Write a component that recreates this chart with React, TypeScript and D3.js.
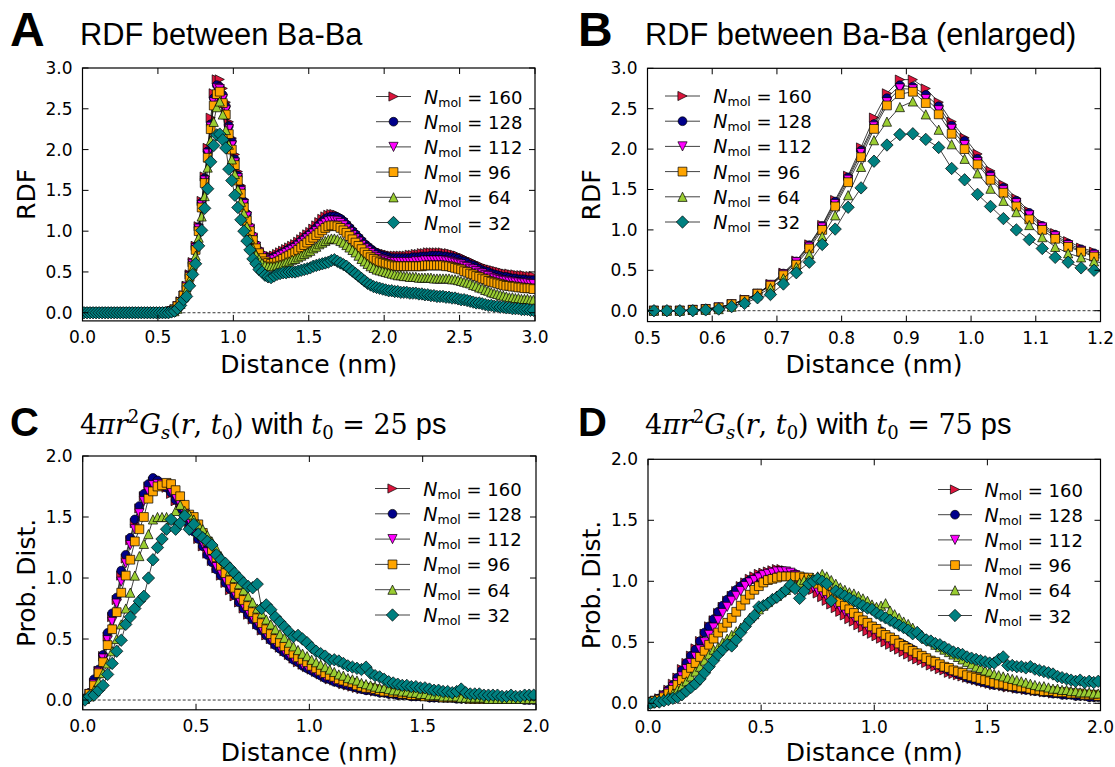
import React from "react";
import * as d3 from "d3";

// ---------- data ----------
const BIN_START = 0.01; // nm, first bin centre
const BIN_STEP = 0.02; // nm, bin width

const SERIES_N = ["160", "128", "112", "96", "64", "32"];
const SERIES_COLORS = ["#dc143c", "#00008b", "#ff00ff", "#ffa500", "#9acd32", "#008080"];
const SERIES_SHAPES = ["triRight", "circle", "triDown", "square", "triUp", "diamond"];

// RDF Ba-Ba, bins 0.01 .. 2.99 nm
const RDF_160 = [
  0, 0, 0, 0, 0, 0, 0, 0, 0, 0,
  0, 0, 0, 0, 0, 0, 0, 0, 0, 0,
  0, 0, 0, 0, 0, 0, 0, 0, 0.01, 0.02,
  0.04, 0.08, 0.14, 0.21, 0.33, 0.47, 0.62, 0.82, 1.06, 1.37,
  1.67, 2.02, 2.39, 2.69, 2.86, 2.86, 2.75, 2.58, 2.34, 2.14,
  1.94, 1.73, 1.56, 1.39, 1.23, 1.07, 0.96, 0.86, 0.78, 0.73,
  0.70, 0.69, 0.69, 0.70, 0.72, 0.74, 0.76, 0.78, 0.80, 0.82,
  0.84, 0.87, 0.90, 0.93, 0.96, 0.99, 1.03, 1.07, 1.11, 1.15,
  1.18, 1.20, 1.21, 1.21, 1.20, 1.18, 1.15, 1.11, 1.07, 1.03,
  0.99, 0.95, 0.91, 0.87, 0.84, 0.81, 0.78, 0.76, 0.74, 0.73,
  0.72, 0.71, 0.70, 0.70, 0.70, 0.70, 0.70, 0.70, 0.71, 0.71,
  0.72, 0.72, 0.73, 0.73, 0.74, 0.74, 0.74, 0.74, 0.74, 0.74,
  0.73, 0.73, 0.72, 0.71, 0.70, 0.68, 0.67, 0.65, 0.63, 0.62,
  0.60, 0.58, 0.57, 0.55, 0.54, 0.53, 0.52, 0.51, 0.50, 0.49,
  0.48, 0.48, 0.47, 0.47, 0.46, 0.46, 0.46, 0.45, 0.45, 0.45,
];
const RDF_128 = [
  0, 0, 0, 0, 0, 0, 0, 0, 0, 0,
  0, 0, 0, 0, 0, 0, 0, 0, 0, 0,
  0, 0, 0, 0, 0, 0, 0, 0, 0.01, 0.02,
  0.04, 0.08, 0.13, 0.21, 0.32, 0.46, 0.61, 0.81, 1.05, 1.35,
  1.65, 1.98, 2.31, 2.63, 2.79, 2.77, 2.67, 2.53, 2.29, 2.10,
  1.88, 1.68, 1.52, 1.36, 1.21, 1.05, 0.94, 0.83, 0.76, 0.71,
  0.68, 0.67, 0.67, 0.68, 0.70, 0.72, 0.74, 0.76, 0.78, 0.80,
  0.82, 0.85, 0.88, 0.91, 0.94, 0.97, 1.00, 1.04, 1.08, 1.12,
  1.15, 1.17, 1.18, 1.18, 1.17, 1.15, 1.12, 1.08, 1.04, 1.00,
  0.96, 0.92, 0.88, 0.84, 0.81, 0.78, 0.75, 0.73, 0.71, 0.70,
  0.69, 0.68, 0.67, 0.67, 0.67, 0.67, 0.67, 0.67, 0.67, 0.68,
  0.68, 0.68, 0.69, 0.69, 0.69, 0.70, 0.70, 0.70, 0.70, 0.69,
  0.69, 0.68, 0.68, 0.67, 0.66, 0.64, 0.63, 0.61, 0.59, 0.58,
  0.56, 0.54, 0.52, 0.51, 0.50, 0.48, 0.47, 0.46, 0.45, 0.44,
  0.44, 0.43, 0.42, 0.42, 0.41, 0.41, 0.41, 0.40, 0.40, 0.40,
];
const RDF_112 = [
  0, 0, 0, 0, 0, 0, 0, 0, 0, 0,
  0, 0, 0, 0, 0, 0, 0, 0, 0, 0,
  0, 0, 0, 0, 0, 0, 0, 0, 0.01, 0.02,
  0.04, 0.08, 0.13, 0.21, 0.32, 0.45, 0.60, 0.79, 1.03, 1.32,
  1.62, 1.95, 2.28, 2.58, 2.75, 2.74, 2.62, 2.48, 2.25, 2.05,
  1.84, 1.65, 1.49, 1.33, 1.18, 1.03, 0.92, 0.81, 0.74, 0.69,
  0.66, 0.64, 0.64, 0.65, 0.67, 0.69, 0.71, 0.73, 0.75, 0.77,
  0.79, 0.82, 0.85, 0.88, 0.91, 0.94, 0.97, 1.00, 1.04, 1.07,
  1.10, 1.12, 1.13, 1.13, 1.12, 1.10, 1.07, 1.03, 0.99, 0.95,
  0.91, 0.87, 0.83, 0.79, 0.76, 0.73, 0.70, 0.68, 0.66, 0.65,
  0.64, 0.63, 0.62, 0.62, 0.62, 0.62, 0.62, 0.62, 0.62, 0.62,
  0.63, 0.63, 0.63, 0.64, 0.64, 0.64, 0.64, 0.64, 0.64, 0.64,
  0.63, 0.63, 0.62, 0.61, 0.60, 0.59, 0.57, 0.56, 0.54, 0.53,
  0.51, 0.49, 0.48, 0.46, 0.45, 0.43, 0.42, 0.41, 0.40, 0.39,
  0.39, 0.38, 0.38, 0.37, 0.37, 0.36, 0.36, 0.36, 0.35, 0.35,
];
const RDF_96 = [
  0, 0, 0, 0, 0, 0, 0, 0, 0, 0,
  0, 0, 0, 0, 0, 0, 0, 0, 0, 0,
  0, 0, 0, 0, 0, 0, 0, 0, 0.01, 0.02,
  0.04, 0.08, 0.13, 0.21, 0.31, 0.44, 0.57, 0.77, 1.00, 1.29,
  1.59, 1.90, 2.25, 2.54, 2.68, 2.71, 2.57, 2.43, 2.19, 2.00,
  1.81, 1.62, 1.46, 1.29, 1.13, 1.00, 0.89, 0.79, 0.73, 0.67,
  0.63, 0.61, 0.60, 0.61, 0.62, 0.64, 0.66, 0.68, 0.70, 0.72,
  0.74, 0.77, 0.80, 0.83, 0.86, 0.89, 0.92, 0.95, 0.98, 1.01,
  1.04, 1.06, 1.07, 1.07, 1.06, 1.04, 1.01, 0.98, 0.94, 0.90,
  0.86, 0.82, 0.78, 0.74, 0.71, 0.68, 0.66, 0.64, 0.62, 0.61,
  0.60, 0.59, 0.58, 0.57, 0.57, 0.57, 0.57, 0.57, 0.57, 0.57,
  0.57, 0.57, 0.57, 0.58, 0.58, 0.58, 0.58, 0.58, 0.58, 0.58,
  0.57, 0.57, 0.56, 0.55, 0.54, 0.53, 0.51, 0.50, 0.48, 0.47,
  0.45, 0.44, 0.42, 0.41, 0.39, 0.38, 0.37, 0.36, 0.35, 0.34,
  0.33, 0.33, 0.32, 0.32, 0.31, 0.31, 0.30, 0.30, 0.30, 0.29,
];
const RDF_64 = [
  0, 0, 0, 0, 0, 0, 0, 0, 0, 0,
  0, 0, 0, 0, 0, 0, 0, 0, 0, 0,
  0, 0, 0, 0, 0, 0, 0, 0, 0.01, 0.01,
  0.02, 0.05, 0.11, 0.19, 0.28, 0.40, 0.54, 0.70, 0.92, 1.18,
  1.43, 1.78, 2.11, 2.34, 2.52, 2.59, 2.43, 2.24, 2.06, 1.88,
  1.70, 1.51, 1.36, 1.22, 1.06, 0.91, 0.79, 0.71, 0.66, 0.61,
  0.58, 0.57, 0.57, 0.57, 0.58, 0.59, 0.60, 0.62, 0.63, 0.65,
  0.66, 0.68, 0.70, 0.72, 0.74, 0.76, 0.79, 0.81, 0.84, 0.86,
  0.88, 0.90, 0.91, 0.91, 0.90, 0.88, 0.86, 0.83, 0.80, 0.77,
  0.74, 0.70, 0.66, 0.63, 0.60, 0.57, 0.55, 0.53, 0.52, 0.51,
  0.50, 0.49, 0.48, 0.47, 0.46, 0.46, 0.45, 0.45, 0.44, 0.44,
  0.44, 0.43, 0.43, 0.43, 0.43, 0.43, 0.42, 0.42, 0.42, 0.42,
  0.42, 0.42, 0.41, 0.41, 0.40, 0.39, 0.38, 0.37, 0.36, 0.34,
  0.33, 0.31, 0.30, 0.28, 0.27, 0.25, 0.24, 0.23, 0.22, 0.21,
  0.20, 0.19, 0.19, 0.18, 0.18, 0.17, 0.17, 0.17, 0.16, 0.16,
];
const RDF_32 = [
  0, 0, 0, 0, 0, 0, 0, 0, 0, 0,
  0, 0, 0, 0, 0, 0, 0, 0, 0, 0,
  0, 0, 0, 0, 0, 0, 0, 0, 0, 0.01,
  0.02, 0.05, 0.09, 0.16, 0.20, 0.33, 0.47, 0.60, 0.82, 1.01,
  1.28, 1.52, 1.85, 2.05, 2.18, 2.19, 2.12, 2.02, 1.76, 1.62,
  1.44, 1.29, 1.14, 1.00, 0.88, 0.77, 0.66, 0.60, 0.53, 0.50,
  0.46, 0.44, 0.43, 0.45, 0.47, 0.48, 0.49, 0.49, 0.50, 0.50,
  0.50, 0.51, 0.52, 0.53, 0.54, 0.55, 0.57, 0.58, 0.59, 0.60,
  0.61, 0.62, 0.64, 0.65, 0.63, 0.61, 0.59, 0.57, 0.54, 0.51,
  0.48, 0.45, 0.42, 0.39, 0.36, 0.34, 0.32, 0.31, 0.30, 0.29,
  0.28, 0.27, 0.27, 0.26, 0.26, 0.25, 0.25, 0.25, 0.24, 0.24,
  0.24, 0.23, 0.23, 0.22, 0.22, 0.21, 0.21, 0.20, 0.20, 0.20,
  0.19, 0.19, 0.18, 0.18, 0.17, 0.16, 0.16, 0.15, 0.14, 0.13,
  0.12, 0.12, 0.11, 0.10, 0.09, 0.09, 0.08, 0.08, 0.07, 0.07,
  0.06, 0.06, 0.05, 0.05, 0.05, 0.04, 0.04, 0.04, 0.03, 0.03,
];

// 4 pi r^2 Gs(r, t0), t0 = 25 ps, bins 0.01 .. 1.99 nm
const GS25_160 = [
  0.01, 0.05, 0.14, 0.24, 0.36, 0.52, 0.68, 0.82, 1.02, 1.16,
  1.31, 1.45, 1.57, 1.67, 1.75, 1.79, 1.81, 1.78, 1.74, 1.69,
  1.63, 1.57, 1.51, 1.45, 1.39, 1.32, 1.26, 1.20, 1.14, 1.08,
  1.02, 0.96, 0.90, 0.85, 0.80, 0.75, 0.70, 0.66, 0.62, 0.57,
  0.53, 0.50, 0.46, 0.43, 0.40, 0.37, 0.34, 0.31, 0.29, 0.27,
  0.25, 0.23, 0.21, 0.19, 0.17, 0.16, 0.15, 0.13, 0.12, 0.11,
  0.10, 0.09, 0.09, 0.08, 0.07, 0.07, 0.06, 0.06, 0.05, 0.05,
  0.04, 0.04, 0.04, 0.03, 0.03, 0.03, 0.03, 0.02, 0.02, 0.02,
  0.02, 0.02, 0.02, 0.02, 0.01, 0.01, 0.01, 0.01, 0.01, 0.01,
  0.01, 0.01, 0.01, 0.01, 0.01, 0.01, 0.01, 0.01, 0.01, 0.01,
];
const GS25_128 = [
  0.01, 0.06, 0.17, 0.25, 0.37, 0.55, 0.71, 0.84, 1.06, 1.19,
  1.33, 1.48, 1.59, 1.69, 1.77, 1.82, 1.80, 1.76, 1.74, 1.70,
  1.64, 1.57, 1.52, 1.45, 1.38, 1.32, 1.26, 1.19, 1.13, 1.07,
  1.02, 0.96, 0.91, 0.86, 0.80, 0.75, 0.70, 0.66, 0.61, 0.57,
  0.53, 0.49, 0.45, 0.42, 0.39, 0.36, 0.33, 0.31, 0.28, 0.26,
  0.24, 0.22, 0.20, 0.18, 0.17, 0.15, 0.14, 0.13, 0.12, 0.11,
  0.10, 0.09, 0.08, 0.08, 0.07, 0.06, 0.06, 0.05, 0.05, 0.04,
  0.04, 0.04, 0.03, 0.03, 0.03, 0.03, 0.02, 0.02, 0.02, 0.02,
  0.02, 0.02, 0.01, 0.01, 0.01, 0.01, 0.01, 0.01, 0.01, 0.01,
  0.01, 0.01, 0.01, 0.01, 0.01, 0.01, 0.01, 0.00, 0.00, 0.00,
];
const GS25_112 = [
  0.01, 0.05, 0.13, 0.23, 0.34, 0.49, 0.64, 0.79, 0.97, 1.12,
  1.27, 1.40, 1.53, 1.63, 1.71, 1.76, 1.77, 1.77, 1.75, 1.71,
  1.66, 1.60, 1.53, 1.47, 1.40, 1.34, 1.28, 1.21, 1.15, 1.09,
  1.04, 0.98, 0.92, 0.87, 0.82, 0.77, 0.72, 0.67, 0.63, 0.58,
  0.54, 0.50, 0.47, 0.43, 0.40, 0.37, 0.34, 0.32, 0.29, 0.27,
  0.25, 0.23, 0.21, 0.19, 0.18, 0.16, 0.15, 0.14, 0.13, 0.12,
  0.11, 0.10, 0.09, 0.08, 0.08, 0.07, 0.06, 0.06, 0.05, 0.05,
  0.05, 0.04, 0.04, 0.04, 0.03, 0.03, 0.03, 0.03, 0.02, 0.02,
  0.02, 0.02, 0.02, 0.02, 0.01, 0.01, 0.01, 0.01, 0.01, 0.01,
  0.01, 0.01, 0.01, 0.01, 0.01, 0.01, 0.01, 0.01, 0.01, 0.01,
];
const GS25_96 = [
  0.01, 0.05, 0.12, 0.22, 0.31, 0.45, 0.58, 0.72, 0.88, 1.02,
  1.15, 1.30, 1.40, 1.50, 1.65, 1.71, 1.75, 1.76, 1.78, 1.77,
  1.72, 1.67, 1.60, 1.52, 1.50, 1.44, 1.37, 1.30, 1.23, 1.17,
  1.10, 1.04, 0.98, 0.92, 0.87, 0.82, 0.77, 0.72, 0.67, 0.63,
  0.58, 0.54, 0.50, 0.47, 0.44, 0.41, 0.38, 0.35, 0.33, 0.31,
  0.28, 0.26, 0.24, 0.22, 0.20, 0.19, 0.17, 0.16, 0.15, 0.14,
  0.12, 0.11, 0.10, 0.10, 0.09, 0.08, 0.07, 0.07, 0.06, 0.06,
  0.05, 0.05, 0.04, 0.04, 0.04, 0.03, 0.03, 0.03, 0.03, 0.02,
  0.02, 0.02, 0.02, 0.02, 0.02, 0.01, 0.01, 0.01, 0.01, 0.01,
  0.01, 0.01, 0.01, 0.01, 0.01, 0.01, 0.01, 0.01, 0.01, 0.01,
];
const GS25_64 = [
  0.01, 0.03, 0.08, 0.15, 0.22, 0.30, 0.40, 0.50, 0.62, 0.75,
  0.88, 1.02, 1.18, 1.28, 1.36, 1.48, 1.50, 1.50, 1.50, 1.48,
  1.55, 1.60, 1.55, 1.52, 1.48, 1.44, 1.40, 1.35, 1.30, 1.24,
  1.18, 1.12, 1.06, 1.00, 0.95, 0.90, 0.85, 0.80, 0.75, 0.71,
  0.66, 0.62, 0.58, 0.54, 0.51, 0.47, 0.44, 0.41, 0.38, 0.36,
  0.33, 0.31, 0.29, 0.27, 0.25, 0.23, 0.21, 0.20, 0.18, 0.17,
  0.16, 0.14, 0.13, 0.12, 0.11, 0.10, 0.10, 0.09, 0.08, 0.08,
  0.07, 0.07, 0.06, 0.06, 0.05, 0.05, 0.04, 0.04, 0.04, 0.03,
  0.03, 0.03, 0.03, 0.02, 0.02, 0.02, 0.02, 0.02, 0.02, 0.01,
  0.01, 0.01, 0.01, 0.01, 0.01, 0.01, 0.01, 0.01, 0.01, 0.01,
];
const GS25_32 = [
  0.00, 0.03, 0.04, 0.08, 0.12, 0.21, 0.30, 0.40, 0.49, 0.62,
  0.68, 0.75, 0.81, 0.85, 1.00, 1.15, 1.25, 1.32, 1.40, 1.48,
  1.40, 1.45, 1.51, 1.40, 1.44, 1.36, 1.33, 1.30, 1.27, 1.19,
  1.15, 1.12, 1.08, 1.04, 1.00, 0.96, 0.93, 0.92, 0.95, 0.75,
  0.78, 0.74, 0.68, 0.64, 0.60, 0.56, 0.52, 0.53, 0.50, 0.47,
  0.43, 0.40, 0.38, 0.36, 0.33, 0.33, 0.32, 0.30, 0.28, 0.27,
  0.26, 0.25, 0.27, 0.22, 0.20, 0.19, 0.17, 0.15, 0.14, 0.13,
  0.12, 0.12, 0.11, 0.11, 0.10, 0.10, 0.09, 0.08, 0.08, 0.07,
  0.07, 0.06, 0.07, 0.09, 0.06, 0.05, 0.05, 0.05, 0.04, 0.04,
  0.04, 0.04, 0.03, 0.03, 0.04, 0.03, 0.03, 0.04, 0.04, 0.04,
];

// 4 pi r^2 Gs(r, t0), t0 = 75 ps, bins 0.01 .. 1.99 nm
const GS75_160 = [
  0.01, 0.02, 0.04, 0.07, 0.11, 0.16, 0.21, 0.28, 0.33, 0.39,
  0.45, 0.51, 0.57, 0.63, 0.68, 0.74, 0.79, 0.84, 0.88, 0.92,
  0.96, 0.99, 1.02, 1.04, 1.06, 1.07, 1.08, 1.09, 1.10, 1.10,
  1.09, 1.07, 1.05, 1.02, 0.99, 0.96, 0.93, 0.90, 0.87, 0.84,
  0.81, 0.78, 0.75, 0.72, 0.69, 0.67, 0.64, 0.62, 0.59, 0.57,
  0.55, 0.53, 0.50, 0.48, 0.46, 0.44, 0.42, 0.40, 0.38, 0.36,
  0.35, 0.33, 0.31, 0.30, 0.28, 0.27, 0.25, 0.24, 0.23, 0.22,
  0.21, 0.20, 0.19, 0.18, 0.17, 0.16, 0.15, 0.15, 0.14, 0.13,
  0.13, 0.12, 0.12, 0.11, 0.11, 0.10, 0.10, 0.09, 0.09, 0.08,
  0.08, 0.08, 0.07, 0.07, 0.07, 0.06, 0.06, 0.06, 0.05, 0.05,
];
const GS75_128 = [
  0.01, 0.02, 0.04, 0.07, 0.11, 0.15, 0.21, 0.27, 0.33, 0.39,
  0.44, 0.51, 0.58, 0.63, 0.69, 0.75, 0.80, 0.85, 0.89, 0.93,
  0.96, 0.99, 1.01, 1.02, 1.04, 1.05, 1.06, 1.07, 1.08, 1.08,
  1.08, 1.07, 1.06, 1.04, 1.02, 1.00, 0.98, 0.95, 0.93, 0.91,
  0.88, 0.85, 0.82, 0.79, 0.76, 0.74, 0.71, 0.68, 0.66, 0.63,
  0.61, 0.59, 0.56, 0.54, 0.52, 0.50, 0.48, 0.46, 0.44, 0.41,
  0.39, 0.37, 0.35, 0.33, 0.31, 0.29, 0.27, 0.26, 0.24, 0.23,
  0.21, 0.20, 0.19, 0.18, 0.17, 0.16, 0.15, 0.15, 0.14, 0.14,
  0.13, 0.12, 0.12, 0.11, 0.11, 0.10, 0.10, 0.09, 0.09, 0.08,
  0.08, 0.07, 0.07, 0.07, 0.06, 0.06, 0.06, 0.05, 0.05, 0.05,
];
const GS75_112 = [
  0.01, 0.02, 0.03, 0.06, 0.09, 0.13, 0.17, 0.22, 0.28, 0.33,
  0.38, 0.44, 0.50, 0.56, 0.62, 0.68, 0.74, 0.79, 0.84, 0.88,
  0.92, 0.96, 0.99, 1.01, 1.03, 1.05, 1.06, 1.07, 1.08, 1.08,
  1.08, 1.07, 1.05, 1.03, 1.00, 0.98, 0.95, 0.92, 0.90, 0.87,
  0.84, 0.81, 0.78, 0.75, 0.73, 0.70, 0.67, 0.65, 0.62, 0.60,
  0.58, 0.55, 0.53, 0.51, 0.49, 0.47, 0.45, 0.43, 0.41, 0.39,
  0.37, 0.35, 0.33, 0.31, 0.30, 0.28, 0.27, 0.25, 0.24, 0.23,
  0.22, 0.21, 0.20, 0.19, 0.18, 0.17, 0.16, 0.15, 0.15, 0.14,
  0.13, 0.13, 0.12, 0.12, 0.11, 0.11, 0.10, 0.10, 0.09, 0.09,
  0.09, 0.08, 0.08, 0.08, 0.07, 0.07, 0.07, 0.06, 0.06, 0.06,
];
const GS75_96 = [
  0.01, 0.02, 0.03, 0.05, 0.08, 0.11, 0.15, 0.19, 0.24, 0.29,
  0.33, 0.38, 0.43, 0.48, 0.53, 0.58, 0.62, 0.66, 0.70, 0.75,
  0.80, 0.85, 0.89, 0.93, 0.96, 0.99, 1.01, 1.02, 1.03, 1.04,
  1.04, 1.04, 1.04, 1.04, 1.03, 1.03, 1.01, 0.98, 0.95, 0.92,
  0.89, 0.86, 0.83, 0.80, 0.77, 0.74, 0.71, 0.68, 0.66, 0.63,
  0.61, 0.58, 0.56, 0.54, 0.52, 0.49, 0.47, 0.45, 0.43, 0.41,
  0.39, 0.37, 0.35, 0.34, 0.32, 0.30, 0.29, 0.27, 0.26, 0.25,
  0.23, 0.22, 0.21, 0.20, 0.19, 0.18, 0.17, 0.16, 0.16, 0.15,
  0.14, 0.14, 0.13, 0.13, 0.12, 0.11, 0.11, 0.10, 0.10, 0.10,
  0.09, 0.09, 0.09, 0.08, 0.08, 0.08, 0.07, 0.07, 0.07, 0.06,
];
const GS75_64 = [
  0.00, 0.01, 0.02, 0.04, 0.06, 0.08, 0.11, 0.14, 0.18, 0.22,
  0.26, 0.30, 0.35, 0.40, 0.44, 0.46, 0.50, 0.53, 0.56, 0.59,
  0.62, 0.66, 0.70, 0.73, 0.77, 0.80, 0.83, 0.86, 0.88, 0.91,
  0.93, 0.95, 0.97, 0.99, 1.01, 1.02, 1.03, 1.04, 1.06, 1.04,
  1.01, 0.98, 0.95, 0.93, 0.91, 0.90, 0.88, 0.86, 0.84, 0.81,
  0.79, 0.80, 0.82, 0.76, 0.73, 0.70, 0.67, 0.65, 0.62, 0.59,
  0.56, 0.53, 0.51, 0.48, 0.46, 0.44, 0.42, 0.40, 0.38, 0.36,
  0.34, 0.32, 0.30, 0.29, 0.27, 0.26, 0.24, 0.23, 0.22, 0.21,
  0.20, 0.19, 0.18, 0.17, 0.16, 0.15, 0.14, 0.14, 0.13, 0.12,
  0.12, 0.11, 0.11, 0.10, 0.10, 0.09, 0.09, 0.09, 0.08, 0.08,
];
const GS75_32 = [
  0.00, 0.01, 0.01, 0.02, 0.03, 0.04, 0.05, 0.07, 0.10, 0.13,
  0.16, 0.20, 0.25, 0.30, 0.35, 0.40, 0.44, 0.48, 0.47, 0.52,
  0.58, 0.63, 0.68, 0.72, 0.79, 0.80, 0.82, 0.85, 0.87, 0.90,
  0.93, 0.97, 0.94, 0.86, 0.92, 0.98, 1.00, 1.02, 1.00, 0.98,
  0.84, 0.92, 0.90, 0.88, 0.86, 0.84, 0.82, 0.80, 0.78, 0.77,
  0.74, 0.72, 0.70, 0.68, 0.66, 0.64, 0.62, 0.60, 0.57, 0.58,
  0.54, 0.52, 0.51, 0.49, 0.48, 0.46, 0.44, 0.42, 0.41, 0.40,
  0.38, 0.37, 0.36, 0.35, 0.34, 0.33, 0.33, 0.36, 0.38, 0.31,
  0.31, 0.30, 0.30, 0.29, 0.30, 0.28, 0.27, 0.26, 0.25, 0.24,
  0.22, 0.21, 0.20, 0.19, 0.18, 0.19, 0.17, 0.18, 0.17, 0.18,
];

const RDF_SERIES = [RDF_160, RDF_128, RDF_112, RDF_96, RDF_64, RDF_32];
const GS25_SERIES = [GS25_160, GS25_128, GS25_112, GS25_96, GS25_64, GS25_32];
const GS75_SERIES = [GS75_160, GS75_128, GS75_112, GS75_96, GS75_64, GS75_32];

const TICKS_A_X = [0, 0.5, 1.0, 1.5, 2.0, 2.5, 3.0];
const TICKS_A_Y = [0, 0.5, 1.0, 1.5, 2.0, 2.5, 3.0];
const TICKS_B_X = [0.5, 0.6, 0.7, 0.8, 0.9, 1.0, 1.1, 1.2];
const TICKS_CD_X = [0, 0.5, 1.0, 1.5, 2.0];
const TICKS_CD_Y = [0, 0.5, 1.0, 1.5, 2.0];

// ---------- drawing ----------
const SANS = "'DejaVu Sans', sans-serif";
const TITLE_FONT = "'Liberation Sans', Arial, sans-serif";
const MATH_FONT = "'DejaVu Serif', serif";

function markerPath(shape: string): string {
  const s = 4.6;
  const r = 4.4;
  const d = 6.2;
  switch (shape) {
    case "circle":
      return `M${-r},0a${r},${r} 0 1,0 ${2 * r},0a${r},${r} 0 1,0 ${-2 * r},0Z`;
    case "square":
      return `M${-r},${-r}h${2 * r}v${2 * r}h${-2 * r}Z`;
    case "triUp":
      return `M0,${-s}L${s},${s}L${-s},${s}Z`;
    case "triDown":
      return `M0,${s}L${s},${-s}L${-s},${-s}Z`;
    case "triRight":
      return `M${s},0L${-s},${-s}L${-s},${s}Z`;
    default:
      return `M0,${-d}L${d},0L0,${d}L${-d},0Z`;
  }
}

type PanelCfg = {
  id: string;
  xDomain: [number, number];
  yDomain: [number, number];
  xRange: [number, number];
  yRange: [number, number];
  xTicks: number[];
  yTicks: number[];
  series: number[][];
  ylabel: string;
  xlabelY: number;
  legend: { x1: number; x2: number; xm: number; xt: number; y0: number; dy: number };
};

const fmt = d3.format(".1f");

function Panel({ cfg }: { cfg: PanelCfg }) {
  const x = d3.scaleLinear().domain(cfg.xDomain).range(cfg.xRange);
  const y = d3.scaleLinear().domain(cfg.yDomain).range(cfg.yRange);
  const [x0, x1] = cfg.xRange;
  const [yb, yt] = cfg.yRange;
  const clipId = `clip-${cfg.id}`;
  const tl = 6;
  const line = d3
    .line<[number, number]>()
    .x((d) => x(d[0]))
    .y((d) => y(d[1]));
  const midY = (yb + yt) / 2;
  const midX = (x0 + x1) / 2;
  return (
    <g>
      <defs>
        <clipPath id={clipId}>
          <rect x={x0} y={yt} width={x1 - x0} height={yb - yt} />
        </clipPath>
      </defs>
      <line x1={x0} x2={x1} y1={y(0)} y2={y(0)} stroke="#000" strokeWidth={0.8} strokeDasharray="3,2" />
      <g clipPath={`url(#${clipId})`}>
        {cfg.series.map((vals, si) => {
          const pts: [number, number][] = vals.map((v, i) => [BIN_START + i * BIN_STEP, v]);
          const mp = markerPath(SERIES_SHAPES[si]);
          return (
            <g key={si}>
              <path d={line(pts) || ""} fill="none" stroke="#111" strokeWidth={0.8} />
              {pts.map((p, i) => (
                <path
                  key={i}
                  d={mp}
                  transform={`translate(${x(p[0])},${y(p[1])})`}
                  fill={SERIES_COLORS[si]}
                  stroke="#000"
                  strokeWidth={0.7}
                />
              ))}
            </g>
          );
        })}
      </g>
      <rect x={x0} y={yt} width={x1 - x0} height={yb - yt} fill="none" stroke="#000" strokeWidth={1.2} />
      {cfg.xTicks.map((t) => (
        <g key={`xt${t}`}>
          <line x1={x(t)} x2={x(t)} y1={yb} y2={yb - tl} stroke="#000" strokeWidth={1} />
          <line x1={x(t)} x2={x(t)} y1={yt} y2={yt + tl} stroke="#000" strokeWidth={1} />
          <text x={x(t)} y={yb + 22.5} textAnchor="middle" fontFamily={SANS} fontSize={17}>
            {fmt(t)}
          </text>
        </g>
      ))}
      {cfg.yTicks.map((t) => (
        <g key={`yt${t}`}>
          <line x1={x0} x2={x0 + tl} y1={y(t)} y2={y(t)} stroke="#000" strokeWidth={1} />
          <line x1={x1} x2={x1 - tl} y1={y(t)} y2={y(t)} stroke="#000" strokeWidth={1} />
          <text x={x0 - 10} y={y(t) + 6} textAnchor="end" fontFamily={SANS} fontSize={17}>
            {fmt(t)}
          </text>
        </g>
      ))}
      <text x={midX} y={cfg.xlabelY} textAnchor="middle" fontFamily={SANS} fontSize={25}>
        Distance (nm)
      </text>
      <text
        transform={`translate(${x0 - 48},${midY}) rotate(-90)`}
        textAnchor="middle"
        fontFamily={SANS}
        fontSize={25}
      >
        {cfg.ylabel}
      </text>
      {SERIES_N.map((n, si) => {
        const ly = cfg.legend.y0 + si * cfg.legend.dy;
        return (
          <g key={`lg${si}`}>
            <line x1={cfg.legend.x1} x2={cfg.legend.x2} y1={ly} y2={ly} stroke="#111" strokeWidth={0.8} />
            <path
              d={markerPath(SERIES_SHAPES[si])}
              transform={`translate(${cfg.legend.xm},${ly})`}
              fill={SERIES_COLORS[si]}
              stroke="#000"
              strokeWidth={0.7}
            />
            <text x={cfg.legend.xt} y={ly + 7} fontFamily={SANS} fontSize={18}>
              <tspan fontStyle="italic" fontSize={19}>N</tspan>
              <tspan fontSize={12.5} dy={3}>mol</tspan>
              <tspan dy={-3}>{` = ${n}`}</tspan>
            </text>
          </g>
        );
      })}
    </g>
  );
}

const PANELS: PanelCfg[] = [
  {
    id: "A",
    xDomain: [0, 3],
    yDomain: [-0.1, 3.0],
    xRange: [82.5, 535],
    yRange: [320.9, 68],
    xTicks: TICKS_A_X,
    yTicks: TICKS_A_Y,
    series: RDF_SERIES,
    ylabel: "RDF",
    xlabelY: 373,
    legend: { x1: 376, x2: 411, xm: 393.5, xt: 424, y0: 96.5, dy: 25.2 },
  },
  {
    id: "B",
    xDomain: [0.5, 1.2],
    yDomain: [-0.135, 3.0],
    xRange: [647.5, 1100.5],
    yRange: [321.6, 68.3],
    xTicks: TICKS_B_X,
    yTicks: TICKS_A_Y,
    series: RDF_SERIES,
    ylabel: "RDF",
    xlabelY: 373,
    legend: { x1: 665, x2: 700, xm: 682.5, xt: 713.3, y0: 96, dy: 25.2 },
  },
  {
    id: "C",
    xDomain: [0, 2],
    yDomain: [-0.08, 2.0],
    xRange: [82.7, 536],
    yRange: [709.8, 456],
    xTicks: TICKS_CD_X,
    yTicks: TICKS_CD_Y,
    series: GS25_SERIES,
    ylabel: "Prob. Dist.",
    xlabelY: 761,
    legend: { x1: 375, x2: 410, xm: 392.5, xt: 423.3, y0: 488.5, dy: 25.3 },
  },
  {
    id: "D",
    xDomain: [0, 2],
    yDomain: [-0.06, 2.0],
    xRange: [648, 1100.5],
    yRange: [710.6, 459.3],
    xTicks: TICKS_CD_X,
    yTicks: TICKS_CD_Y,
    series: GS75_SERIES,
    ylabel: "Prob. Dist.",
    xlabelY: 761,
    legend: { x1: 938, x2: 972, xm: 955, xt: 984.5, y0: 489.5, dy: 25.2 },
  },
];

function MathTitle({ x, y, t0 }: { x: number; y: number; t0: string }) {
  const fs = 27;
  const sub = 18;
  return (
    <text x={x} y={y} fontFamily={MATH_FONT} fontSize={fs}>
      <tspan>4</tspan>
      <tspan fontStyle="italic">πr</tspan>
      <tspan fontSize={sub} dy={-11}>2</tspan>
      <tspan fontStyle="italic" dy={11}>G</tspan>
      <tspan fontStyle="italic" fontSize={sub} dy={5}>s</tspan>
      <tspan dy={-5}>(</tspan>
      <tspan fontStyle="italic">r</tspan>
      <tspan>, </tspan>
      <tspan fontStyle="italic">t</tspan>
      <tspan fontSize={sub} dy={5}>0</tspan>
      <tspan dy={-5}>)</tspan>
      <tspan fontFamily={TITLE_FONT} fontSize={29}>{" with "}</tspan>
      <tspan fontStyle="italic">t</tspan>
      <tspan fontSize={sub} dy={5}>0</tspan>
      <tspan dy={-5}>{` = ${t0}`}</tspan>
      <tspan fontFamily={TITLE_FONT} fontSize={29}>{" ps"}</tspan>
    </text>
  );
}

export default function App() {
  return (
    <svg
      width={1115}
      height={767}
      viewBox="0 0 1115 767"
      style={{ position: "absolute", left: 0, top: 0, background: "#fff" }}
    >
      <rect width={1115} height={767} fill="#fff" />
      {PANELS.map((p) => (
        <Panel key={p.id} cfg={p} />
      ))}
      <text x={10} y={46} fontFamily={TITLE_FONT} fontWeight="bold" fontSize={48}>A</text>
      <text x={80} y={45} fontFamily={TITLE_FONT} fontSize={30.8}>RDF between Ba-Ba</text>
      <text x={578} y={46} fontFamily={TITLE_FONT} fontWeight="bold" fontSize={48}>B</text>
      <text x={645} y={45} fontFamily={TITLE_FONT} fontSize={30.8}>RDF between Ba-Ba (enlarged)</text>
      <text x={10} y={436} fontFamily={TITLE_FONT} fontWeight="bold" fontSize={40}>C</text>
      <MathTitle x={80} y={434} t0="25" />
      <text x={578} y={436} fontFamily={TITLE_FONT} fontWeight="bold" fontSize={40}>D</text>
      <MathTitle x={645} y={434} t0="75" />
    </svg>
  );
}
